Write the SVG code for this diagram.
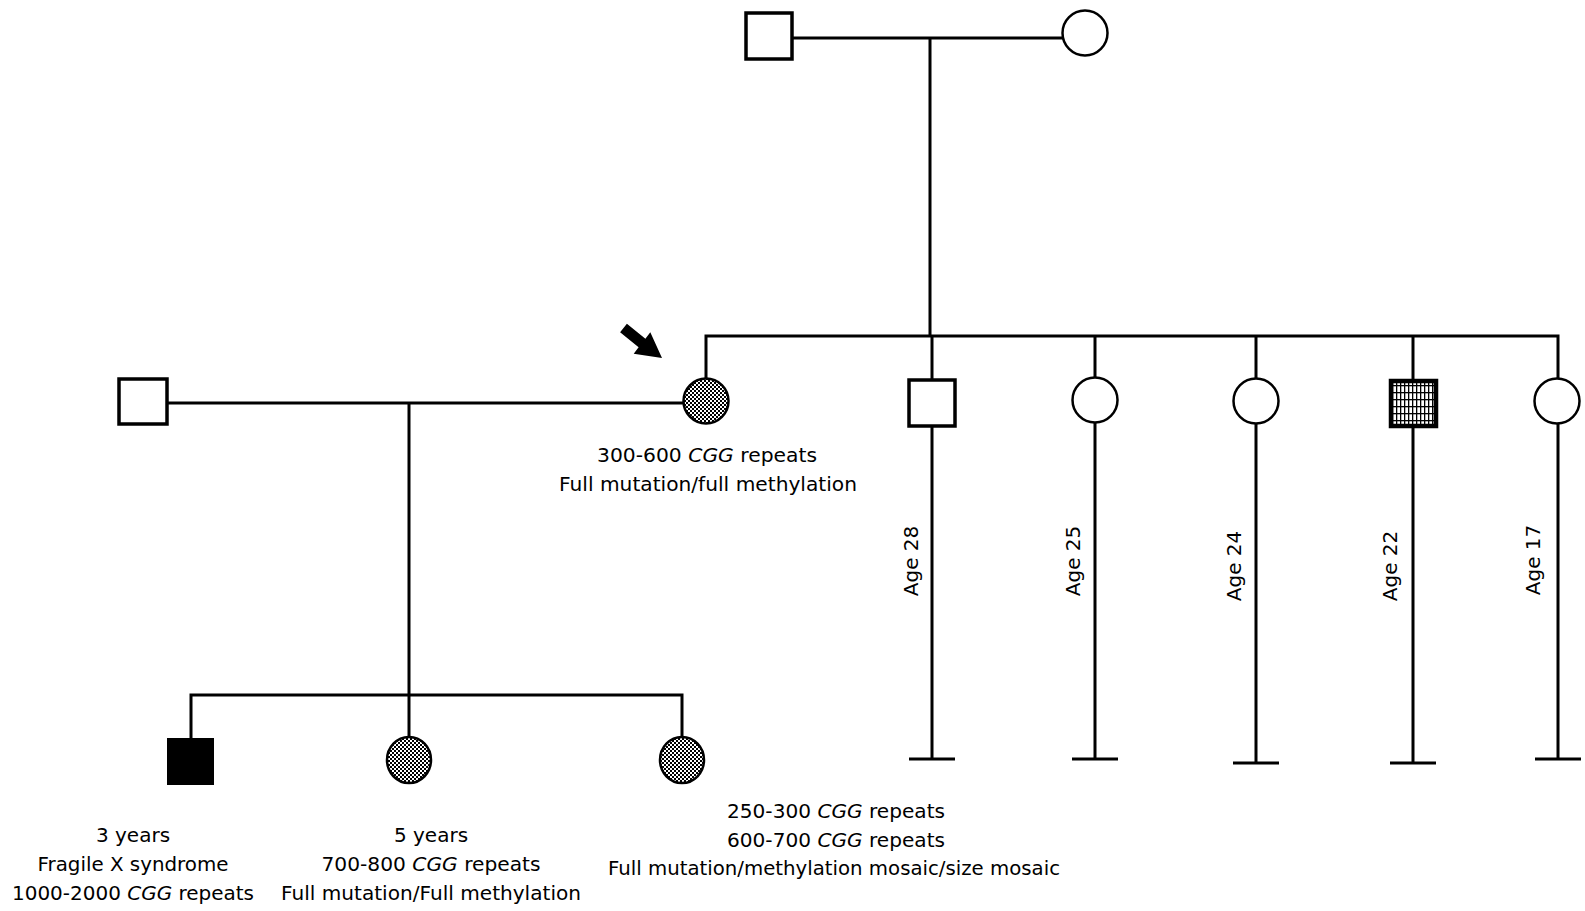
<svg xmlns="http://www.w3.org/2000/svg" width="1585" height="911" viewBox="0 0 1585 911">
  <style>
    .ln { stroke: #000; stroke-width: 3; fill: none; }
    .sq { fill: #fff; stroke: #000; stroke-width: 3.5; }
    .ci { fill: #fff; stroke: #000; stroke-width: 2.5; }
    .lbl { font-family: "DejaVu Sans", "Liberation Sans", sans-serif; font-size: 20px; fill: #000; text-anchor: middle; }
    .age { font-family: "DejaVu Sans", "Liberation Sans", sans-serif; font-size: 20px; fill: #000; text-anchor: middle; }
    .it { font-style: italic; }
  </style>
  <defs>
    <!-- fine checkerboard used for carrier females -->
    <pattern id="checker" width="4" height="4" patternUnits="userSpaceOnUse">
      <rect width="4" height="4" fill="#fff"/>
      <rect width="2" height="2" fill="#000"/>
      <rect x="2" y="2" width="2" height="2" fill="#000"/>
    </pattern>
    <!-- grid hatch used for the mosaic male -->
    <pattern id="grid" width="4" height="7" patternUnits="userSpaceOnUse">
      <rect width="4" height="7" fill="#fff"/>
      <rect width="1.3" height="7" fill="#000"/>
      <rect width="4" height="1.3" fill="#000"/>
    </pattern>
  </defs>
  <rect width="1585" height="911" fill="#fff"/>

  <!-- connectors -->
  <g id="connectors">
    <!-- grandparents -->
    <line class="ln" x1="792" y1="38" x2="1063" y2="38"/>
    <line class="ln" x1="930" y1="38" x2="930" y2="336"/>
    <!-- sibship line -->
    <polyline class="ln" points="706,378 706,336 1558,336 1558,378"/>
    <line class="ln" x1="932" y1="336" x2="932" y2="379"/>
    <line class="ln" x1="1095" y1="336" x2="1095" y2="377"/>
    <line class="ln" x1="1256" y1="336" x2="1256" y2="378"/>
    <line class="ln" x1="1413" y1="336" x2="1413" y2="379"/>
    <!-- sibling lines down to terminators -->
    <line class="ln" x1="932" y1="427" x2="932" y2="759"/>
    <line class="ln" x1="909" y1="759" x2="955" y2="759"/>
    <line class="ln" x1="1095" y1="423" x2="1095" y2="759"/>
    <line class="ln" x1="1072" y1="759" x2="1118" y2="759"/>
    <line class="ln" x1="1256" y1="423" x2="1256" y2="763"/>
    <line class="ln" x1="1233" y1="763" x2="1279" y2="763"/>
    <line class="ln" x1="1413" y1="428" x2="1413" y2="763"/>
    <line class="ln" x1="1390" y1="763" x2="1436" y2="763"/>
    <line class="ln" x1="1558" y1="423" x2="1558" y2="759"/>
    <line class="ln" x1="1535" y1="759" x2="1581" y2="759"/>
    <!-- proband marriage -->
    <line class="ln" x1="168" y1="403" x2="683" y2="403"/>
    <line class="ln" x1="409" y1="403" x2="409" y2="695"/>
    <!-- children -->
    <polyline class="ln" points="191,738 191,695 682,695 682,737"/>
    <line class="ln" x1="409" y1="695" x2="409" y2="737"/>
  </g>

  <!-- generation I -->
  <g id="grandfather"><rect class="sq" x="746" y="13" width="46" height="46"/></g>
  <g id="grandmother"><circle class="ci" cx="1085" cy="33" r="22.5"/></g>

  <!-- generation II -->
  <g id="husband"><rect class="sq" x="119" y="379" width="48" height="45"/></g>
  <g id="proband">
    <circle class="ci" cx="706" cy="401" r="22.5" style="fill:url(#checker)"/>
    <!-- proband arrow -->
    <polygon points="626.9,323.7 645.4,338.7 650.3,332.3 662,358 633.7,353.7 638.6,347.3 620.1,332.3" fill="#000"/>
    <text class="lbl" x="707" y="462" textLength="220" lengthAdjust="spacingAndGlyphs">300-600 <tspan class="it">CGG</tspan> repeats</text>
    <text class="lbl" x="708" y="491" textLength="298" lengthAdjust="spacingAndGlyphs">Full mutation/full methylation</text>
  </g>
  <g id="brother28">
    <rect class="sq" x="909" y="380" width="46" height="46"/>
    <text class="age" transform="translate(918,561) rotate(-90)">Age 28</text>
  </g>
  <g id="sister25">
    <circle class="ci" cx="1095" cy="400" r="22.5"/>
    <text class="age" transform="translate(1080,561) rotate(-90)">Age 25</text>
  </g>
  <g id="sister24">
    <circle class="ci" cx="1256" cy="401" r="22.5"/>
    <text class="age" transform="translate(1241,566) rotate(-90)">Age 24</text>
  </g>
  <g id="brother22">
    <rect class="sq" x="1391" y="381" width="45" height="45" style="fill:url(#grid);stroke-width:4.5"/>
    <text class="age" transform="translate(1397,566) rotate(-90)">Age 22</text>
  </g>
  <g id="sister17">
    <circle class="ci" cx="1557" cy="401" r="22.5"/>
    <text class="age" transform="translate(1540,560) rotate(-90)">Age 17</text>
  </g>

  <!-- generation III -->
  <g id="son3">
    <rect x="167" y="738" width="47" height="47" fill="#000"/>
    <text class="lbl" x="133" y="842">3 years</text>
    <text class="lbl" x="133" y="871" textLength="191" lengthAdjust="spacingAndGlyphs">Fragile X syndrome</text>
    <text class="lbl" x="133" y="900" textLength="242" lengthAdjust="spacingAndGlyphs">1000-2000 <tspan class="it">CGG</tspan> repeats</text>
  </g>
  <g id="daughter5">
    <ellipse class="ci" cx="409" cy="760" rx="22" ry="23" style="fill:url(#checker)"/>
    <text class="lbl" x="431" y="842">5 years</text>
    <text class="lbl" x="431" y="871" textLength="219" lengthAdjust="spacingAndGlyphs">700-800 <tspan class="it">CGG</tspan> repeats</text>
    <text class="lbl" x="431" y="900" textLength="300" lengthAdjust="spacingAndGlyphs">Full mutation/Full methylation</text>
  </g>
  <g id="daughter_mosaic">
    <ellipse class="ci" cx="682" cy="760" rx="22" ry="23" style="fill:url(#checker)"/>
    <text class="lbl" x="836" y="818" textLength="218" lengthAdjust="spacingAndGlyphs">250-300 <tspan class="it">CGG</tspan> repeats</text>
    <text class="lbl" x="836" y="847" textLength="218" lengthAdjust="spacingAndGlyphs">600-700 <tspan class="it">CGG</tspan> repeats</text>
    <text class="lbl" x="834" y="875" textLength="452" lengthAdjust="spacingAndGlyphs">Full mutation/methylation mosaic/size mosaic</text>
  </g>
</svg>
